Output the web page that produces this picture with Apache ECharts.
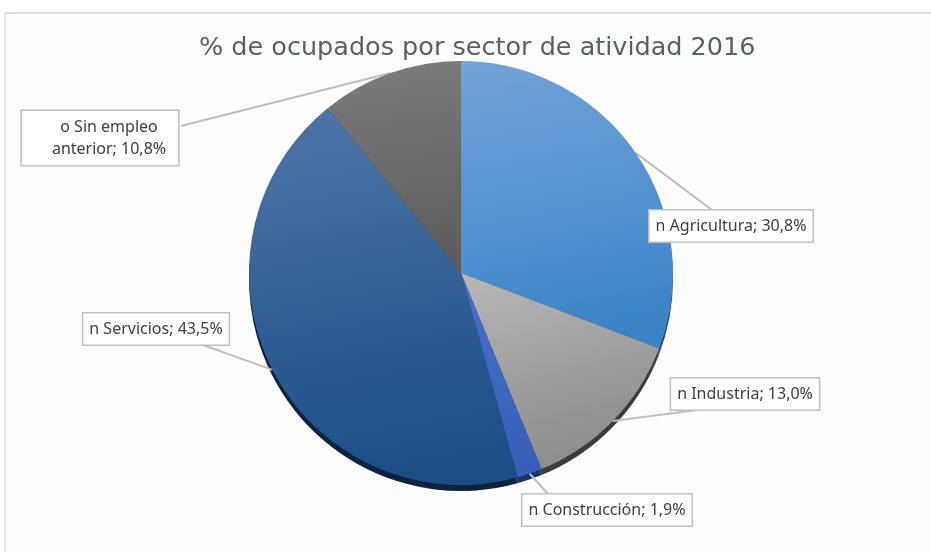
<!DOCTYPE html>
<html>
<head>
<meta charset="utf-8">
<script src="https://cdn.jsdelivr.net/npm/echarts@6/dist/echarts.min.js"></script>
<style>
  html, body { margin: 0; padding: 0; background: #ffffff; }
  #frame {
    position: absolute; left: 4px; top: 12px; width: 940px; height: 560px;
    border-top: 2px solid #dde2ea; border-left: 2px solid #e6eaf0; background: #fdfdfd;
  }
  #chart { position: absolute; left: 0; top: 0; width: 931px; height: 552px; }
</style>
</head>
<body>
<div id="frame"></div>
<div id="chart"></div>
<script>
// values (percent)
const categories = ['Agricultura', 'Industria', 'Construcción', 'Servicios', 'Sin empleo anterior'];
const markers = ['n', 'n', 'n', 'n', 'o'];
const shares = [30.8, 13.0, 1.9, 43.5, 10.8];

// slice colours: [top, bottom] of each gradient, plus the dark side under it
const topColors = ['#72a4d9', '#b6b6b6', '#4672c6', '#4d76a8', '#7d7d7d'];
const bottomColors = ['#3c84c6', '#8e8e8e', '#355fb8', '#1c4e86', '#5c5c5c'];
const sideColors = ['#23507e', '#3c3c3c', '#1d3468', '#0b2340', '#333333'];

// callout boxes were placed by hand in the original: box centre and where the leader meets it
const labelSpots = [[731, 226], [745, 394], [607, 510], [156, 329], [100, 138]];
const leaderEnds = [[712, 210], [705, 409], [548, 494], [200, 344], [181, 126]];

const center = [461, 273];
const radius = 212;

function fmt(v) {
    return v.toFixed(1).replace('.', ',') + '%';
}

const mainData = categories.map((name, i) => ({
    name: name,
    value: shares[i],
    itemStyle: {
        color: new echarts.graphic.LinearGradient(0, 0, 0.25, 1, [
            { offset: 0, color: topColors[i] },
            { offset: 1, color: bottomColors[i] },
        ]),
    },
}));

const sideData = categories.map((name, i) => ({
    name: name,
    value: shares[i],
    itemStyle: { color: sideColors[i] },
}));

const option = {
    animation: false,
    title: {
        text: '% de ocupados por sector de atividad 2016',
        left: 194,
        top: 30,
        textStyle: {
            fontFamily: 'DejaVu Sans',
            fontSize: 25.5,
            fontWeight: 'normal',
            color: '#58606c',
        },
    },
    series: [
        {
            // darker copy a few px lower gives the thin 3D edge
            type: 'pie',
            silent: true,
            center: [center[0], center[1] + 6],
            radius: radius,
            startAngle: 90,
            z: 1,
            label: { show: false },
            labelLine: { show: false },
            data: sideData,
        },
        {
            type: 'pie',
            center: center,
            radius: radius,
            startAngle: 90,
            z: 2,
            label: {
                show: true,
                position: 'outside',
                fontFamily: 'Noto Sans',
                fontSize: 16,
                color: '#404040',
                backgroundColor: '#ffffff',
                borderColor: '#bfbfbf',
                borderWidth: 1.5,
                padding: [5, 6, 4, 6],
                lineHeight: 22,
                formatter: (p) => {
                    const i = p.dataIndex;
                    if (i === 4) {
                        return markers[i] + ' Sin empleo\nanterior; ' + fmt(p.value);
                    }
                    return markers[i] + ' ' + p.name + '; ' + fmt(p.value);
                },
            },
            labelLine: {
                show: true,
                length: 20,
                length2: 20,
                lineStyle: { color: '#bfbfbf', width: 2 },
            },
            labelLayout: (params) => {
                const i = params.dataIndex;
                const spot = labelSpots[i];
                const out = {
                    x: spot[0],
                    y: spot[1],
                    align: 'center',
                    verticalAlign: 'middle',
                };
                const pts = params.labelLinePoints;
                if (pts && pts.length) {
                    const a = pts[0];
                    const b = leaderEnds[i];
                    out.labelLinePoints = [
                        [a[0], a[1]],
                        [(a[0] + b[0]) / 2, (a[1] + b[1]) / 2],
                        [b[0], b[1]],
                    ];
                }
                return out;
            },
            data: mainData.map((d, i) => i === 4
                ? Object.assign({}, d, { label: { padding: [5, 12, 5, 30] } })
                : d),
        },
    ],
};

const myChart = echarts.init(document.getElementById('chart'));
myChart.setOption(option);
</script>
</body>
</html>
